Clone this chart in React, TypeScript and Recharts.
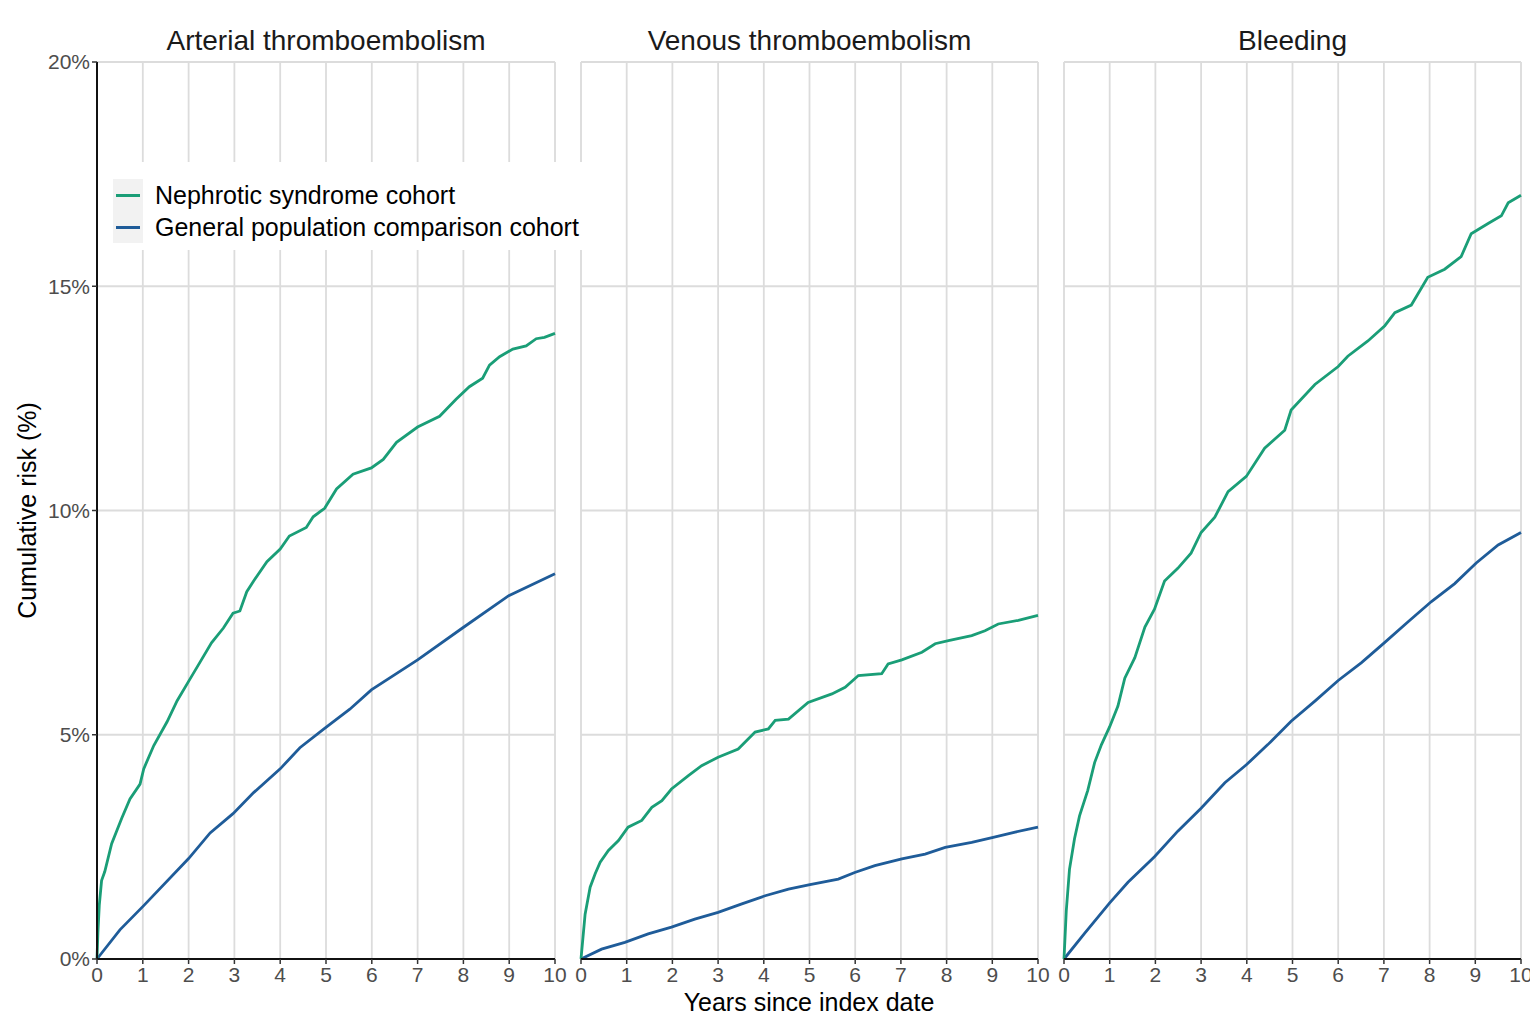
import React from 'react';
import { LineChart, Line, XAxis, YAxis, CartesianGrid } from 'recharts';

const FONT = '"Liberation Sans", Arial, sans-serif';
const GREEN = '#1a9e77';
const BLUE = '#1f5c99';
const H = 1022;

const xTicks = [0, 1, 2, 3, 4, 5, 6, 7, 8, 9, 10];
const xMinor = [0.5, 1.5, 2.5, 3.5, 4.5, 5.5, 6.5, 7.5, 8.5, 9.5];
const yTicks = [0, 5, 10, 15, 20];
const yMinor = [2.5, 7.5, 12.5, 17.5];

const titles = ['Arterial thromboembolism', 'Venous thromboembolism', 'Bleeding'];
const seriesNames = ['Nephrotic syndrome cohort', 'General population comparison cohort'];

// [years, cumulative risk %]
const arterialNS: [number, number][] = [
  [0, 0], [0.02, 0.6], [0.05, 1.2], [0.1, 1.75], [0.17, 1.95], [0.32, 2.57], [0.54, 3.14],
  [0.72, 3.57], [0.94, 3.9], [1.02, 4.24], [1.24, 4.76], [1.53, 5.29], [1.75, 5.76],
  [2.0, 6.19], [2.25, 6.62], [2.5, 7.05], [2.76, 7.38], [2.97, 7.71], [3.12, 7.76],
  [3.27, 8.19], [3.42, 8.43], [3.71, 8.86], [4.0, 9.14], [4.2, 9.43], [4.57, 9.62],
  [4.72, 9.86], [4.97, 10.05], [5.23, 10.48], [5.59, 10.81], [5.99, 10.95], [6.25, 11.14],
  [6.54, 11.52], [7.0, 11.86], [7.48, 12.1], [7.84, 12.48], [8.13, 12.76], [8.42, 12.95],
  [8.57, 13.24], [8.79, 13.43], [9.08, 13.6], [9.37, 13.67], [9.59, 13.83], [9.77, 13.86],
  [10, 13.95],
];
const arterialGP: [number, number][] = [
  [0, 0], [0.5, 0.65], [1.02, 1.19], [2.0, 2.24], [2.47, 2.81], [2.97, 3.24], [3.42, 3.71],
  [4.0, 4.24], [4.43, 4.71], [4.97, 5.14], [5.52, 5.57], [5.99, 6.0], [7.0, 6.67],
  [7.98, 7.38], [8.99, 8.1], [10, 8.59],
];
const venousNS: [number, number][] = [
  [0, 0], [0.09, 1.0], [0.2, 1.6], [0.31, 1.9], [0.42, 2.16], [0.6, 2.42], [0.82, 2.64],
  [1.03, 2.94], [1.33, 3.09], [1.55, 3.38], [1.77, 3.53], [1.98, 3.79], [2.35, 4.09],
  [2.64, 4.31], [3.0, 4.5], [3.44, 4.68], [3.81, 5.06], [4.1, 5.13], [4.25, 5.32],
  [4.54, 5.35], [4.97, 5.72], [5.49, 5.91], [5.78, 6.06], [6.07, 6.32], [6.58, 6.36],
  [6.72, 6.58], [7.02, 6.67], [7.46, 6.84], [7.75, 7.03], [8.04, 7.1], [8.55, 7.21],
  [8.84, 7.32], [9.13, 7.47], [9.57, 7.55], [10, 7.66],
];
const venousGP: [number, number][] = [
  [0, 0], [0.45, 0.22], [0.96, 0.37], [1.47, 0.56], [1.98, 0.71], [2.49, 0.89], [3.0, 1.04],
  [3.52, 1.23], [4.03, 1.41], [4.54, 1.56], [5.01, 1.66], [5.63, 1.78], [5.99, 1.93],
  [6.43, 2.08], [7.02, 2.23], [7.53, 2.34], [7.97, 2.49], [8.55, 2.6], [9.02, 2.71],
  [9.5, 2.83], [10, 2.94],
];
const bleedingNS: [number, number][] = [
  [0, 0], [0.05, 1.08], [0.12, 2.0], [0.23, 2.68], [0.34, 3.19], [0.52, 3.76], [0.67, 4.38],
  [0.82, 4.78], [1.0, 5.18], [1.18, 5.64], [1.33, 6.26], [1.55, 6.72], [1.77, 7.4],
  [1.98, 7.8], [2.2, 8.43], [2.49, 8.71], [2.78, 9.05], [3.0, 9.51], [3.3, 9.85],
  [3.59, 10.42], [3.99, 10.76], [4.39, 11.39], [4.83, 11.79], [4.97, 12.24], [5.49, 12.81],
  [6.0, 13.21], [6.21, 13.44], [6.65, 13.78], [7.02, 14.12], [7.24, 14.41], [7.6, 14.58],
  [7.96, 15.2], [8.33, 15.38], [8.69, 15.66], [8.91, 16.17], [9.28, 16.4], [9.57, 16.57],
  [9.72, 16.86], [10, 17.03],
];
const bleedingGP: [number, number][] = [
  [0, 0], [0.45, 0.57], [1.0, 1.25], [1.4, 1.71], [1.98, 2.28], [2.49, 2.85], [3.0, 3.36],
  [3.52, 3.93], [3.99, 4.33], [4.46, 4.78], [4.97, 5.3], [5.49, 5.75], [6.0, 6.21],
  [6.51, 6.61], [7.02, 7.06], [7.53, 7.52], [8.04, 7.97], [8.55, 8.37], [9.02, 8.83],
  [9.5, 9.23], [10, 9.51],
];

const toRows = (pts: [number, number][]) => pts.map(([t, v]) => ({ t, v }));

type PanelProps = {
  title: string;
  left: number;
  width: number;
  mLeft: number;
  mRight: number;
  showY: boolean;
  ns: [number, number][];
  gp: [number, number][];
  z: number;
};

function Panel({ title, left, width, mLeft, mRight, showY, ns, gp, z }: PanelProps) {
  const yW = showY ? 97 : 0;
  const plotL = mLeft + yW;
  const plotW = width - plotL - mRight;
  return (
    <div style={{ position: 'absolute', left, top: 0, width, height: H, zIndex: z }}>
      <div
        style={{
          position: 'absolute', left: plotL, top: 24, width: plotW, textAlign: 'center',
          fontFamily: FONT, fontSize: 28, color: '#1a1a1a', lineHeight: '34px',
        }}
      >
        {title}
      </div>
      <LineChart width={width} height={H} margin={{ top: 62, right: mRight, bottom: 33, left: mLeft }}>
        <CartesianGrid xAxisId="minor" yAxisId="minor" stroke="#efefef" strokeWidth={1.2} />
        <CartesianGrid stroke="#dcdcdc" strokeWidth={1.8} />
        <XAxis xAxisId="minor" type="number" dataKey="t" domain={[0, 10]} ticks={xMinor}
          axisLine={false} tickLine={false} tick={false} height={0} />
        <YAxis yAxisId="minor" type="number" domain={[0, 20]} ticks={yMinor}
          axisLine={false} tickLine={false} tick={false} width={0} />
        <XAxis
          type="number" dataKey="t" domain={[0, 10]} ticks={xTicks} interval={0}
          height={30} tickSize={5} tickMargin={3}
          axisLine={{ stroke: '#111', strokeWidth: 2 }}
          tickLine={{ stroke: '#333', strokeWidth: 1.5 }}
          tick={{ fontSize: 21, fill: '#4d4d4d', fontFamily: FONT }}
        />
        <YAxis
          type="number" domain={[0, 20]} ticks={yTicks} interval={0} hide={!showY}
          width={97} tickSize={5}
          axisLine={{ stroke: '#111', strokeWidth: 2 }}
          tickLine={{ stroke: '#333', strokeWidth: 1.5 }}
          tickFormatter={(v: number) => `${v}%`}
          tick={{ fontSize: 21, fill: '#4d4d4d', fontFamily: FONT }}
          label={{
            value: 'Cumulative risk (%)', angle: -90, position: 'insideLeft', offset: 27,
            style: { textAnchor: 'middle', fontSize: 25, fill: '#000', fontFamily: FONT },
          }}
        />
        <Line data={toRows(gp)} dataKey="v" type="linear" stroke={BLUE} strokeWidth={2.8}
          dot={false} isAnimationActive={false} />
        <Line data={toRows(ns)} dataKey="v" type="linear" stroke={GREEN} strokeWidth={2.8}
          dot={false} isAnimationActive={false} />
      </LineChart>
    </div>
  );
}

function LegendBox() {
  const colors = [GREEN, BLUE];
  return (
    <div
      style={{
        position: 'absolute', left: 105, top: 162, width: 484, height: 88, background: '#fff',
        zIndex: 5, fontFamily: FONT,
      }}
    >
      <div style={{ position: 'absolute', left: 8, top: 17, width: 30, height: 64, background: '#f2f2f2' }} />
      {seriesNames.map((n, i) => (
        <div key={n} style={{ position: 'absolute', left: 8, top: 17 + i * 32, height: 32, display: 'flex', alignItems: 'center' }}>
          <div style={{ width: 30, display: 'flex', justifyContent: 'center' }}>
            <div style={{ width: 24, height: 3, background: colors[i] }} />
          </div>
          <span style={{ marginLeft: 12, fontSize: 25, color: '#000', whiteSpace: 'nowrap' }}>{n}</span>
        </div>
      ))}
    </div>
  );
}

export default function App() {
  return (
    <div style={{ position: 'absolute', left: 0, top: 0, width: 1530, height: H, background: '#fff', overflow: 'hidden' }}>
      <Panel title={titles[0]} left={0} width={569} mLeft={0} mRight={14} showY ns={arterialNS} gp={arterialGP} z={2} />
      <Panel title={titles[1]} left={571} width={481} mLeft={10} mRight={14} showY={false} ns={venousNS} gp={venousGP} z={1} />
      <Panel title={titles[2]} left={1054} width={476} mLeft={10} mRight={9} showY={false} ns={bleedingNS} gp={bleedingGP} z={1} />
      <LegendBox />
      <div
        style={{
          position: 'absolute', left: 97, width: 1424, top: 987, textAlign: 'center',
          fontFamily: FONT, fontSize: 25, color: '#000', lineHeight: '30px',
        }}
      >
        Years since index date
      </div>
    </div>
  );
}
